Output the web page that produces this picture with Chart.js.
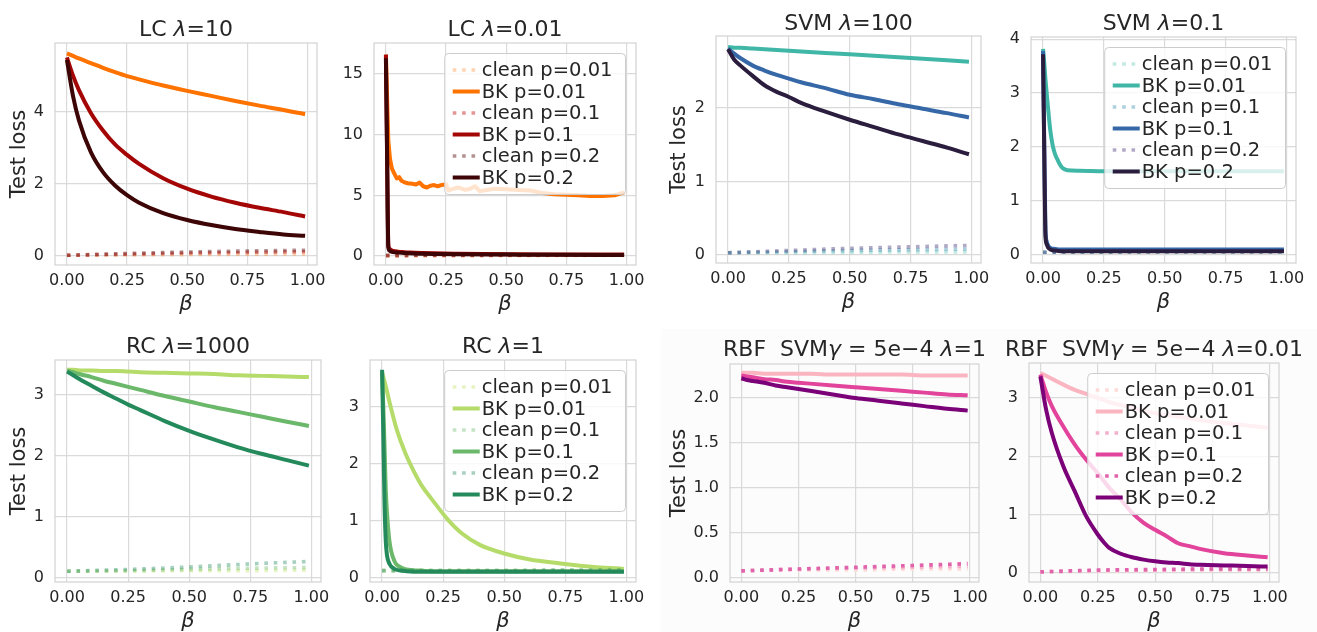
<!DOCTYPE html>
<html><head><meta charset="utf-8">
<script src="https://cdn.jsdelivr.net/npm/chart.js@4.4.0/dist/chart.umd.min.js"></script>
<style>
html,body{margin:0;padding:0;background:#fff;}
#wrap{position:relative;width:1317px;height:632px;overflow:hidden;background:#fff;}
#shade{position:absolute;left:661px;top:329px;width:656px;height:303px;background:#fcfcfc;}
canvas{position:absolute;}
</style></head>
<body><div id="wrap"><div id="shade"></div></div>
<script>
// ---------- shared labels / ticks ----------
const seriesLabels = ['clean p=0.01','BK p=0.01','clean p=0.1','BK p=0.1','clean p=0.2','BK p=0.2'];
const xTickVals = [0, 0.25, 0.5, 0.75, 1.0];

// ---------- beta grids ----------
const betaClean  = [0, 0.25, 0.5, 0.75, 0.99];
const betaSmooth = [0, 0.025, 0.05, 0.1, 0.15, 0.2, 0.25, 0.3, 0.4, 0.5, 0.6, 0.7, 0.8, 0.9, 0.99];
const betaSharp  = [0, 0.005, 0.01, 0.015, 0.02, 0.03, 0.05, 0.075, 0.1, 0.15, 0.2, 0.3, 0.5, 0.7, 0.99];

// ---------- LC lambda=10 ----------
const lc10_clean001 = [0.02, 0.03, 0.04, 0.05, 0.06];
const lc10_bk001 = [5.63, 5.56, 5.49, 5.36, 5.23, 5.11, 5.00, 4.91, 4.74, 4.59, 4.45, 4.31, 4.18, 4.06, 3.94];
const lc10_clean01 = [0.02, 0.05, 0.08, 0.10, 0.12];
const lc10_bk01 = [5.52, 5.02, 4.61, 3.97, 3.49, 3.10, 2.81, 2.56, 2.16, 1.87, 1.65, 1.48, 1.34, 1.22, 1.10];
const lc10_clean02 = [0.02, 0.07, 0.11, 0.14, 0.16];
const lc10_bk02 = [5.45, 4.46, 3.77, 2.88, 2.33, 1.96, 1.69, 1.48, 1.19, 1.00, 0.86, 0.75, 0.67, 0.60, 0.56];

// ---------- LC lambda=0.01 ----------
const lc001_orangeX = [0, 0.005, 0.01, 0.017, 0.025, 0.035, 0.045, 0.055, 0.065, 0.075, 0.09, 0.11, 0.125, 0.14, 0.155, 0.17, 0.185, 0.2, 0.215, 0.23, 0.25, 0.26, 0.28, 0.3, 0.33, 0.35, 0.37, 0.39, 0.42, 0.45, 0.5, 0.55, 0.6, 0.65, 0.7, 0.75, 0.8, 0.85, 0.9, 0.95, 0.99];
const lc001_bk001 = [16.6, 13.0, 9.5, 8.0, 7.2, 6.8, 6.4, 6.5, 6.2, 6.1, 6.0, 5.95, 5.9, 6.05, 5.75, 5.65, 5.8, 5.85, 5.75, 5.85, 5.9, 5.4, 5.55, 5.65, 5.45, 5.55, 5.75, 5.35, 5.45, 5.55, 5.5, 5.45, 5.4, 5.2, 5.1, 5.05, 5.0, 4.95, 4.95, 5.0, 5.25];
const lc001_clean001 = [0.02, 0.03, 0.03, 0.04, 0.04];
const lc001_clean01 = [0.03, 0.05, 0.06, 0.07, 0.08];
const lc001_bk01 = [16.6, 8.5, 0.9, 0.6, 0.5, 0.42, 0.36, 0.32, 0.29, 0.25, 0.22, 0.19, 0.15, 0.13, 0.12];
const lc001_clean02 = [0.05, 0.07, 0.09, 0.10, 0.11];
const lc001_bk02 = [16.3, 8.0, 0.7, 0.45, 0.38, 0.32, 0.28, 0.25, 0.22, 0.19, 0.17, 0.14, 0.12, 0.10, 0.09];

// ---------- SVM lambda=100 ----------
const svm100_clean001 = [0.03, 0.03, 0.035, 0.04, 0.04];
const svm100_bk001 = [2.83, 2.82, 2.82, 2.81, 2.80, 2.79, 2.78, 2.77, 2.75, 2.73, 2.71, 2.69, 2.67, 2.65, 2.63];
const svm100_clean01 = [0.03, 0.045, 0.06, 0.07, 0.08];
const svm100_bk01 = [2.81, 2.74, 2.68, 2.58, 2.51, 2.45, 2.40, 2.35, 2.27, 2.18, 2.12, 2.05, 1.99, 1.93, 1.87];
const svm100_clean02 = [0.03, 0.06, 0.09, 0.11, 0.13];
const svm100_bk02 = [2.80, 2.66, 2.58, 2.44, 2.31, 2.22, 2.15, 2.07, 1.95, 1.84, 1.74, 1.64, 1.55, 1.46, 1.37];

// ---------- SVM lambda=0.1 ----------
const svm01_tealX = [0, 0.005, 0.01, 0.02, 0.03, 0.04, 0.05, 0.06, 0.07, 0.08, 0.1, 0.15, 0.3, 0.5, 0.7, 0.99];
const svm01_bk001 = [3.82, 3.55, 3.25, 2.75, 2.3, 2.02, 1.86, 1.76, 1.67, 1.61, 1.57, 1.56, 1.55, 1.55, 1.55, 1.55];
const svm01_clean001 = [0.05, 0.05, 0.05, 0.05, 0.05];
const svm01_clean01 = [0.05, 0.05, 0.06, 0.06, 0.06];
const svm01_bk01 = [3.78, 2.0, 0.45, 0.25, 0.18, 0.13, 0.11, 0.10, 0.10, 0.10, 0.10, 0.10, 0.10, 0.10, 0.10];
const svm01_clean02 = [0.05, 0.06, 0.06, 0.06, 0.06];
const svm01_bk02 = [3.72, 1.9, 0.35, 0.2, 0.14, 0.1, 0.08, 0.07, 0.07, 0.07, 0.07, 0.07, 0.07, 0.07, 0.07];

// ---------- RC lambda=1000 ----------
const rc1000_clean001 = [0.11, 0.11, 0.12, 0.12, 0.13];
const rc1000_bk001 = [3.41, 3.41, 3.40, 3.40, 3.39, 3.39, 3.38, 3.37, 3.36, 3.35, 3.34, 3.32, 3.31, 3.30, 3.29];
const rc1000_clean01 = [0.11, 0.12, 0.14, 0.16, 0.17];
const rc1000_bk01 = [3.40, 3.37, 3.34, 3.29, 3.23, 3.18, 3.13, 3.08, 2.98, 2.89, 2.80, 2.72, 2.64, 2.56, 2.49];
const rc1000_clean02 = [0.11, 0.14, 0.18, 0.23, 0.27];
const rc1000_bk02 = [3.38, 3.32, 3.26, 3.15, 3.04, 2.94, 2.84, 2.75, 2.57, 2.41, 2.27, 2.14, 2.03, 1.93, 1.84];

// ---------- RC lambda=1 ----------
const rc1_lightX = [0, 0.015, 0.035, 0.06, 0.095, 0.13, 0.165, 0.2, 0.27, 0.33, 0.4, 0.5, 0.6, 0.74, 0.88, 0.99];
const rc1_bk001 = [3.6, 3.36, 3.0, 2.6, 2.19, 1.87, 1.6, 1.4, 1.02, 0.77, 0.58, 0.43, 0.33, 0.25, 0.19, 0.16];
const rc1_clean001 = [0.13, 0.13, 0.13, 0.13, 0.13];
const rc1_clean01 = [0.13, 0.13, 0.13, 0.13, 0.13];
const rc1_bk01 = [3.6, 3.0, 2.3, 1.55, 1.15, 0.65, 0.3, 0.19, 0.15, 0.13, 0.12, 0.12, 0.12, 0.12, 0.12];
const rc1_clean02 = [0.13, 0.13, 0.13, 0.14, 0.14];
const rc1_bk02 = [3.65, 2.5, 1.3, 0.65, 0.4, 0.25, 0.16, 0.13, 0.12, 0.11, 0.11, 0.11, 0.11, 0.11, 0.11];

// ---------- RBF SVM lambda=1 ----------
const rbf1_clean001 = [0.08, 0.09, 0.09, 0.10, 0.10];
const rbf1_bk001 = [2.28, 2.28, 2.28, 2.27, 2.27, 2.27, 2.27, 2.27, 2.26, 2.26, 2.26, 2.26, 2.25, 2.25, 2.25];
const rbf1_clean01 = [0.08, 0.10, 0.11, 0.12, 0.13];
const rbf1_bk01 = [2.25, 2.24, 2.23, 2.21, 2.20, 2.18, 2.17, 2.16, 2.14, 2.12, 2.10, 2.08, 2.06, 2.04, 2.03];
const rbf1_clean02 = [0.08, 0.10, 0.12, 0.14, 0.16];
const rbf1_bk02 = [2.22, 2.20, 2.19, 2.17, 2.14, 2.12, 2.10, 2.08, 2.04, 2.00, 1.97, 1.94, 1.91, 1.88, 1.86];

// ---------- RBF SVM lambda=0.01 ----------
const rbf001X = [0, 0.025, 0.05, 0.1, 0.15, 0.2, 0.25, 0.28, 0.3, 0.35, 0.4, 0.45, 0.5, 0.55, 0.6, 0.65, 0.7, 0.8, 0.9, 0.99];
const rbf001_clean001 = [0.02, 0.03, 0.04, 0.05, 0.05];
const rbf001_bk001 = [3.43, 3.38, 3.33, 3.23, 3.14, 3.07, 3.0, 2.96, 2.93, 2.88, 2.83, 2.78, 2.74, 2.71, 2.68, 2.65, 2.62, 2.57, 2.53, 2.49];
const rbf001_clean01 = [0.02, 0.04, 0.05, 0.06, 0.06];
const rbf001_bk01 = [3.4, 3.1, 2.86, 2.51, 2.2, 1.94, 1.71, 1.56, 1.46, 1.26, 1.03, 0.86, 0.74, 0.63, 0.51, 0.46, 0.41, 0.34, 0.3, 0.27];
const rbf001_clean02 = [0.02, 0.05, 0.06, 0.07, 0.07];
const rbf001_bk02 = [3.37, 2.8, 2.4, 1.83, 1.4, 0.97, 0.66, 0.51, 0.43, 0.33, 0.27, 0.23, 0.2, 0.18, 0.17, 0.15, 0.14, 0.13, 0.12, 0.11];

// ---------- colours (clean, BK) per family ----------
const lcColors  = ['rgba(254,114,0,0.30)', '#fe7200', 'rgba(200,20,20,0.45)', '#a40505', 'rgba(90,10,10,0.45)', '#3d0505'];
const svmColors = ['rgba(64,182,166,0.32)', '#40b6a6', 'rgba(70,150,180,0.45)', '#3668a8', 'rgba(60,40,110,0.40)', '#2b1d3e'];
const rcColors  = ['rgba(200,230,120,0.45)', '#b5dc6a', 'rgba(107,184,107,0.40)', '#6bb86b', 'rgba(36,138,92,0.40)', '#248a5c'];
const rbfColors = ['#fddcd8', '#fbb5c1', '#f5b0cb', '#e2439b', '#e064ab', '#7a0177'];

// ---------- styling ----------
const FONT = 'DejaVu Sans';
const TXT = '#262626';
const GRID = '#dadada';
const SPINE = '#d2d2d2';
const PADL = 70, PADT = 50, PADR = 30, PADB = 55;

const panels = [
  {title:[['LC '],['λ',1],['=10']], box:[55,43,317,265], y:[-0.25,5.92], yTicks:[0,2,4], dec:0, yTitleX:20, titleBase:36, legend:false, colors:lcColors,
   series:[[betaClean,lc10_clean001],[betaSmooth,lc10_bk001],[betaClean,lc10_clean01],[betaSmooth,lc10_bk01],[betaClean,lc10_clean02],[betaSmooth,lc10_bk02]]},
  {title:[['LC '],['λ',1],['=0.01']], box:[374,43,636,265], y:[-0.74,17.56], yTicks:[0,5,10,15], dec:0, yTitleX:null, titleBase:36, legend:true, colors:lcColors, straight:1,
   series:[[betaClean,lc001_clean001],[lc001_orangeX,lc001_bk001],[betaClean,lc001_clean01],[betaSharp,lc001_bk01],[betaClean,lc001_clean02],[betaSharp,lc001_bk02]]},
  {title:[['SVM '],['λ',1],['=100']], box:[716,36,981,263], y:[-0.11,2.98], yTicks:[0,1,2], dec:0, yTitleX:680, titleBase:30, legend:false, colors:svmColors,
   series:[[betaClean,svm100_clean001],[betaSmooth,svm100_bk001],[betaClean,svm100_clean01],[betaSmooth,svm100_bk01],[betaClean,svm100_clean02],[betaSmooth,svm100_bk02]]},
  {title:[['SVM '],['λ',1],['=0.1']], box:[1031,37,1296,263], y:[-0.15,4.04], yTicks:[0,1,2,3,4], dec:0, yTitleX:null, titleBase:30, legend:true, colors:svmColors,
   series:[[betaClean,svm01_clean001],[svm01_tealX,svm01_bk001],[betaClean,svm01_clean01],[betaSharp,svm01_bk01],[betaClean,svm01_clean02],[betaSharp,svm01_bk02]]},
  {title:[['RC '],['λ',1],['=1000']], box:[55,360,321,582], y:[-0.066,3.57], yTicks:[0,1,2,3], dec:0, yTitleX:20, titleBase:353, legend:false, colors:rcColors,
   series:[[betaClean,rc1000_clean001],[betaSmooth,rc1000_bk001],[betaClean,rc1000_clean01],[betaSmooth,rc1000_bk01],[betaClean,rc1000_clean02],[betaSmooth,rc1000_bk02]]},
  {title:[['RC '],['λ',1],['=1']], box:[370,360,636,582], y:[-0.07,3.82], yTicks:[0,1,2,3], dec:0, yTitleX:null, titleBase:353, legend:true, colors:rcColors,
   series:[[betaClean,rc1_clean001],[rc1_lightX,rc1_bk001],[betaClean,rc1_clean01],[betaSharp,rc1_bk01],[betaClean,rc1_clean02],[betaSharp,rc1_bk02]]},
  {title:[['RBF  SVM'],['γ',1],[' = 5e−4 '],['λ',1],['=1']], box:[730,364,979,582], y:[-0.044,2.378], yTicks:[0,0.5,1,1.5,2], dec:1, yTitleX:680, titleBase:356, legend:false, colors:rbfColors,
   series:[[betaClean,rbf1_clean001],[betaSmooth,rbf1_bk001],[betaClean,rbf1_clean01],[betaSmooth,rbf1_bk01],[betaClean,rbf1_clean02],[betaSmooth,rbf1_bk02]]},
  {title:[['RBF  SVM'],['γ',1],[' = 5e−4 '],['λ',1],['=0.01']], box:[1029,363,1279,582], y:[-0.154,3.6], yTicks:[0,1,2,3], dec:0, yTitleX:null, titleBase:356, legend:true, colors:rbfColors,
   series:[[betaClean,rbf001_clean001],[rbf001X,rbf001_bk001],[betaClean,rbf001_clean01],[rbf001X,rbf001_bk01],[betaClean,rbf001_clean02],[rbf001X,rbf001_bk02]]}
];

function decoPlugin(p, canvasTop) {
  return {
    id: 'deco',
    afterDatasetsDraw(chart) {
      const ctx = chart.ctx, a = chart.chartArea;
      ctx.save();
      ctx.strokeStyle = SPINE; ctx.lineWidth = 1.2; ctx.setLineDash([]);
      ctx.strokeRect(a.left, a.top, a.right - a.left, a.bottom - a.top);
      if (p.legend) {
        ctx.font = '19.5px "' + FONT + '"';
        const tw = Math.max(...seriesLabels.map(l => ctx.measureText(l).width));
        const w = tw + 50, h = 141, rowH = 21.5;
        const x0 = a.right - 10.5 - w, y0 = a.top + 10.5;
        ctx.beginPath();
        ctx.roundRect(x0, y0, w, h, 4);
        ctx.fillStyle = 'rgba(255,255,255,0.8)'; ctx.fill();
        ctx.strokeStyle = '#cccccc'; ctx.lineWidth = 1; ctx.stroke();
        chart.data.datasets.forEach((ds, i) => {
          const yy = y0 + 16.5 + i * rowH;
          ctx.beginPath();
          ctx.strokeStyle = ds.borderColor; ctx.lineWidth = ds.borderWidth;
          ctx.setLineDash(ds.borderDash || []);
          ctx.lineCap = 'butt';
          ctx.moveTo(x0 + 8, yy); ctx.lineTo(x0 + 35, yy); ctx.stroke();
          ctx.setLineDash([]);
          ctx.fillStyle = TXT; ctx.textBaseline = 'middle'; ctx.textAlign = 'left';
          ctx.fillText(ds.label, x0 + 37, yy + 1);
        });
      }
      ctx.restore();
    },
    afterDraw(chart) {
      const ctx = chart.ctx, a = chart.chartArea;
      ctx.save();
      ctx.fillStyle = TXT; ctx.textBaseline = 'alphabetic'; ctx.textAlign = 'left';
      const fontOf = s => (s[1] ? 'italic ' : '') + '22px "' + FONT + '"';
      let total = 0;
      p.title.forEach(s => { ctx.font = fontOf(s); total += ctx.measureText(s[0]).width; });
      let x = (a.left + a.right) / 2 - total / 2;
      const y = p.titleBase - canvasTop;
      p.title.forEach(s => { ctx.font = fontOf(s); ctx.fillText(s[0], x, y); x += ctx.measureText(s[0]).width; });
      ctx.restore();
    }
  };
}

const wrap = document.getElementById('wrap');
panels.forEach(p => {
  const [L, T, R, B] = p.box;
  const cv = document.createElement('canvas');
  const cl = L - PADL, ct = T - PADT;
  const cw = R - L + PADL + PADR, ch = B - T + PADT + PADB;
  cv.width = cw; cv.height = ch;
  cv.style.left = cl + 'px'; cv.style.top = ct + 'px';
  cv.style.width = cw + 'px'; cv.style.height = ch + 'px';
  wrap.appendChild(cv);

  const datasets = p.series.map((s, i) => {
    const clean = i % 2 === 0;
    return {
      label: seriesLabels[i],
      data: s[0].map((x, k) => ({x: x, y: s[1][k]})),
      borderColor: p.colors[i],
      backgroundColor: p.colors[i],
      borderWidth: clean ? 3.6 : 4,
      borderDash: clean ? [3.6, 5.8] : [],
      borderCapStyle: 'butt',
      borderJoinStyle: 'round',
      pointRadius: 0,
      fill: false,
      cubicInterpolationMode: (p.straight && i === 1) ? 'default' : 'monotone',
      tension: 0,
      order: 5 - i
    };
  });

  const yTitlePad = p.yTitleX === null ? 0 : (p.yTitleX - cl - 12.6);

  new Chart(cv, {
    type: 'line',
    data: {datasets},
    options: {
      responsive: false, animation: false, devicePixelRatio: 1,
      layout: {padding: {left: 0, top: PADT, right: PADR, bottom: 0}},
      plugins: {legend: {display: false}, tooltip: {enabled: false}, title: {display: false}},
      scales: {
        x: {
          type: 'linear', min: -0.0495, max: 1.0395,
          afterBuildTicks: s => { s.ticks = xTickVals.map(v => ({value: v})); },
          afterFit: s => { s.height = PADB; },
          ticks: {autoSkip: false, maxRotation: 0, minRotation: 0, padding: 6, color: TXT,
                  font: {family: FONT, size: 16}, callback: v => Number(v).toFixed(2)},
          grid: {color: GRID, lineWidth: 1.2, drawTicks: false},
          border: {display: false},
          title: {display: true, text: 'β', color: TXT, font: {family: FONT, size: 21, style: 'italic'},
                  padding: {top: 0, bottom: 3}}
        },
        y: {
          type: 'linear', min: p.y[0], max: p.y[1],
          afterBuildTicks: s => { s.ticks = p.yTicks.map(v => ({value: v})); },
          afterFit: s => { s.width = PADL; },
          ticks: {autoSkip: false, padding: 11, color: TXT, font: {family: FONT, size: 16},
                  callback: v => Number(v).toFixed(p.dec)},
          grid: {color: GRID, lineWidth: 1.2, drawTicks: false},
          border: {display: false},
          title: {display: p.yTitleX !== null, text: 'Test loss', color: TXT,
                  font: {family: FONT, size: 21}, padding: {top: yTitlePad, bottom: 0}}
        }
      }
    },
    plugins: [decoPlugin(p, ct)]
  });
});
</script>
</body></html>
